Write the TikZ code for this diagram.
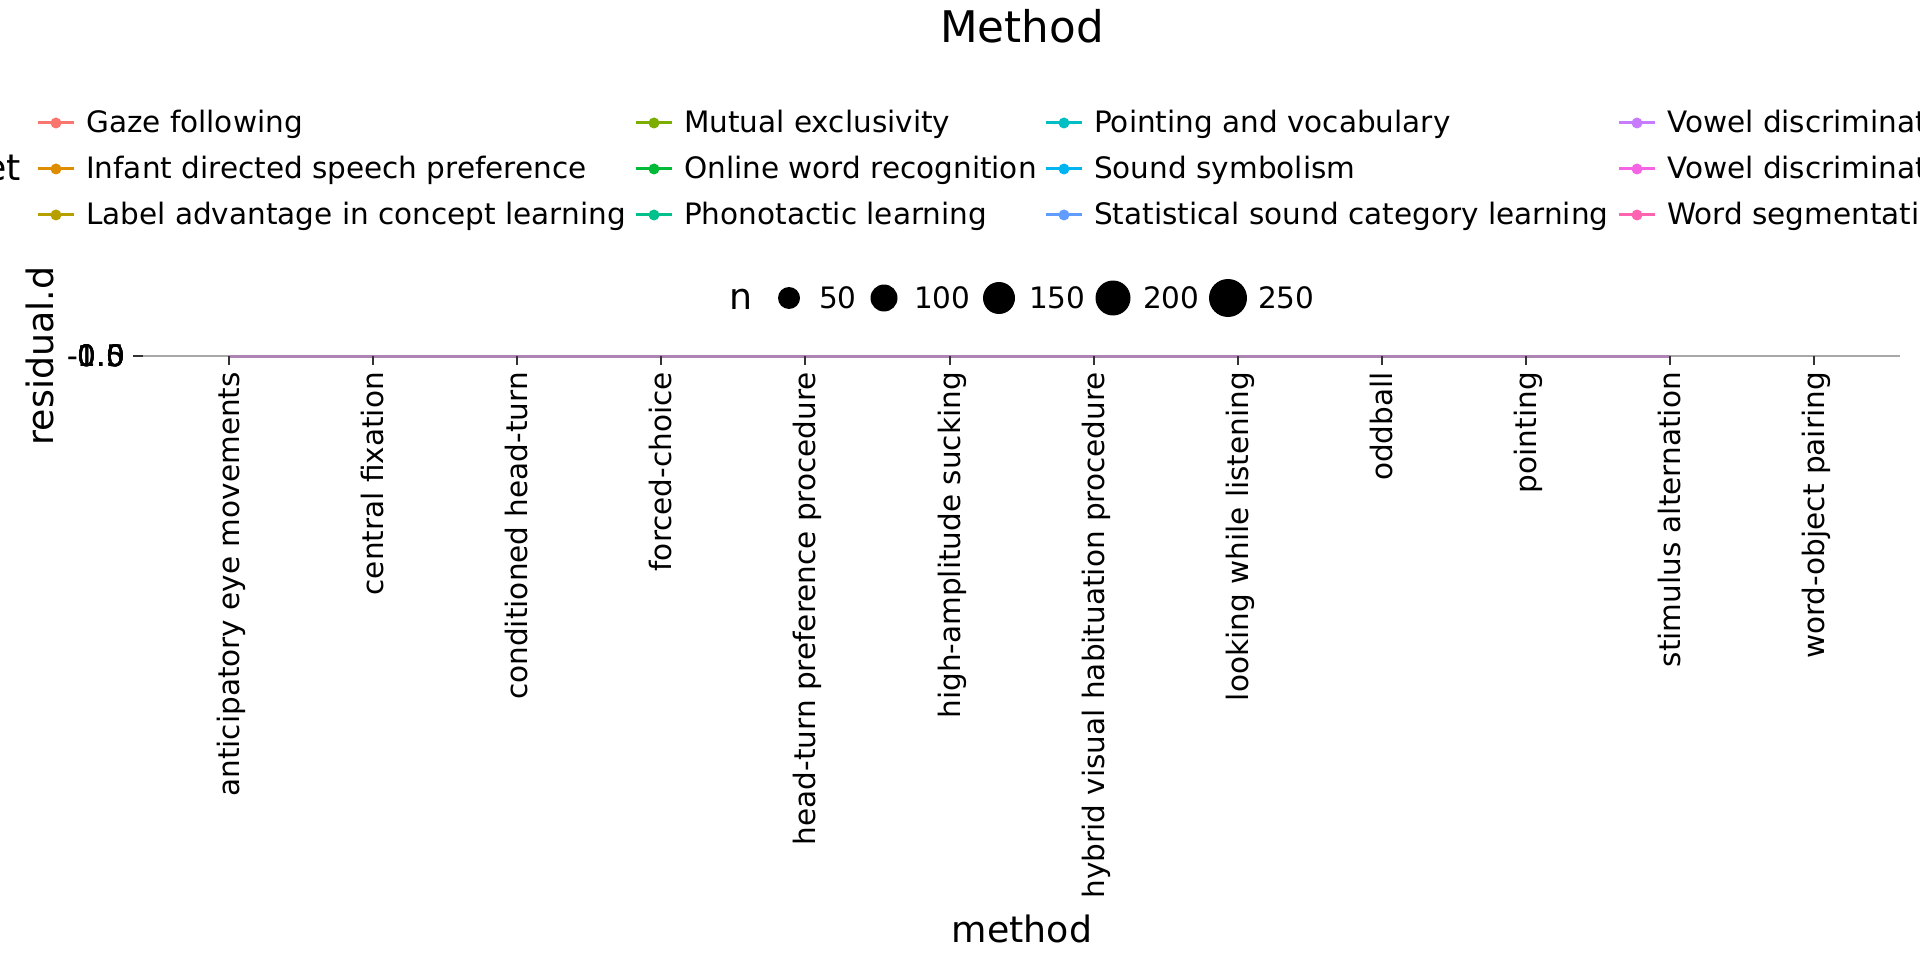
\documentclass[tikz,border=0pt]{standalone}
\usepackage{fontspec}
\usetikzlibrary{calc}
\setmainfont{DejaVu Sans}
\definecolor{c1}{HTML}{F8766D}
\definecolor{c2}{HTML}{DE8C00}
\definecolor{c3}{HTML}{B79F00}
\definecolor{c4}{HTML}{7CAE00}
\definecolor{c5}{HTML}{00BA38}
\definecolor{c6}{HTML}{00C08B}
\definecolor{c7}{HTML}{00BFC4}
\definecolor{c8}{HTML}{00B4F0}
\definecolor{c9}{HTML}{619CFF}
\definecolor{c10}{HTML}{C77CFF}
\definecolor{c11}{HTML}{F564E3}
\definecolor{c12}{HTML}{FF64B0}
\definecolor{tickgray}{HTML}{333333}
\definecolor{refgray}{HTML}{A8A8A8}
\definecolor{dataline}{HTML}{AE84B4}
\begin{document}
\begin{tikzpicture}[x=1pt,y=-1pt,
  lt/.style={font=\fontsize{29.5}{34}\selectfont, inner sep=0pt},
  ttl/.style={font=\fontsize{36.3}{42}\selectfont, inner sep=0pt},
  keyline/.style={line width=3pt},
  tickmk/.style={line width=2pt, draw=tickgray}]
\useasboundingbox (0,0) rectangle (1920,960);
\clip (0,0) rectangle (1920,960);
\fill[white] (0,0) rectangle (1920,960);

% title
\node[font=\fontsize{43.6}{50}\selectfont, inner sep=0pt, anchor=base] (title) at (1022,43) {Method};

% colour legend
\node[ttl, anchor=base east] (dtitle) at (21,181) {dataset};
\foreach \i/\xs/\yy/\col/\txt in {
  1/38/123/c1/{Gaze following},
  2/38/169/c2/{Infant directed speech preference},
  3/38/215/c3/{Label advantage in concept learning},
  4/636/123/c4/{Mutual exclusivity},
  5/636/169/c5/{Online word recognition},
  6/636/215/c6/{Phonotactic learning},
  7/1046/123/c7/{Pointing and vocabulary},
  8/1046/169/c8/{Sound symbolism},
  9/1046/215/c9/{Statistical sound category learning},
  10/1619/123/c10/{Vowel discrimination (native)},
  11/1619/169/c11/{Vowel discrimination (non-native)},
  12/1619/215/c12/{Word segmentation}}{
  \coordinate (ka\i) at (\xs,\yy);
  \coordinate (kb\i) at (\xs+36,\yy);
  \coordinate (kc\i) at (\xs+18,\yy);
  \draw[keyline, draw=\col] (ka\i) -- (kb\i);
  \fill[\col] (kc\i) circle (5.5);
  \node[lt, anchor=base west] (leg\i) at (\xs+48,\yy+10) {\txt};
}

% size legend
\node[ttl, anchor=base] (ntitle) at (741,309) {n};
\foreach \j/\cx/\r/\lab in {1/789/11/50, 2/884/13.5/100, 3/999/16/150, 4/1113/17.5/200, 5/1228/19/250}{
  \coordinate (sz\j) at (\cx,298);
  \fill[black] (sz\j) circle (\r);
  \node[lt, anchor=base west] (szl\j) at (\cx+30,308.6) {\lab};
}

% reference line and data line
\coordinate (pl) at (143,356);
\coordinate (pr) at (1900,356);
\draw[refgray, line width=2pt] (pl) -- (pr);
\foreach \i in {0,...,11}{
  \coordinate (t\i) at (229+144.1*\i,356);
}
\draw[dataline, line width=3pt] (t0) -- (t10);

% x ticks and labels
\foreach \i/\txt in {
  0/{anticipatory eye movements},
  1/{central fixation},
  2/{conditioned head-turn},
  3/{forced-choice},
  4/{head-turn preference procedure},
  5/{high-amplitude sucking},
  6/{hybrid visual habituation procedure},
  7/{looking while listening},
  8/{oddball},
  9/{pointing},
  10/{stimulus alternation},
  11/{word-object pairing}}{
  \draw[tickmk] (t\i) -- ++(0,9);
  \node[lt, rotate=90, anchor=base east] (xl\i) at ($(t\i)+(10.5,16)$) {\txt};
}

% y ticks and labels
\coordinate (yt) at (133,356);
\draw[tickmk] (yt) -- (pl);
\foreach \k/\lab in {1/-1.0, 2/-0.5, 3/0.0, 4/0.5, 5/1.0}{
  \node[lt, anchor=base east] (yl\k) at (125,366.5) {\lab};
}

% axis titles
\node[ttl, rotate=90, anchor=base] (ytitle) at (53,356) {residual.d};
\node[ttl, anchor=base] (xtitle) at (1022,942) {method};
\end{tikzpicture}
\end{document}
